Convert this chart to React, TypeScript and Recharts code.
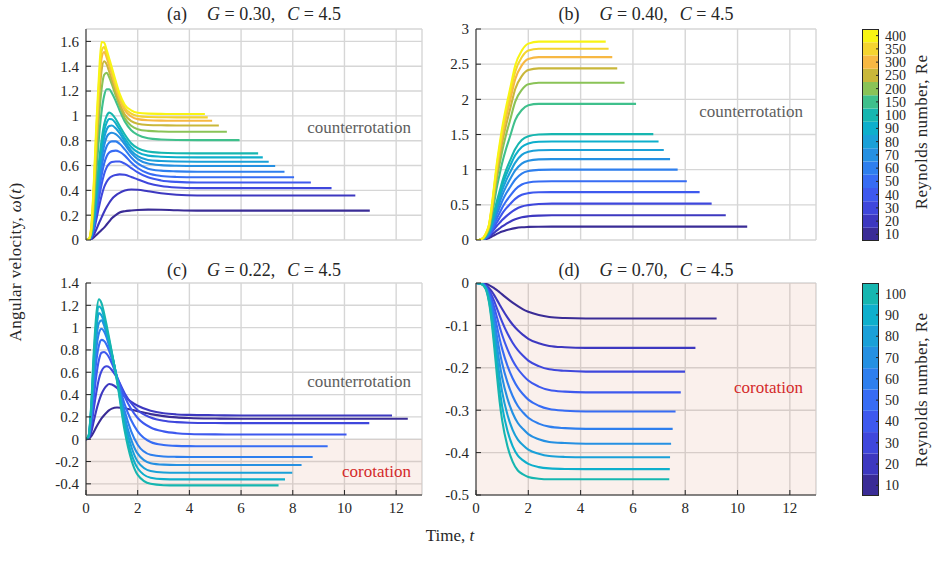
import React from "react";
import {
  LineChart,
  Line,
  XAxis,
  YAxis,
  CartesianGrid,
  ReferenceArea,
  BarChart,
  Bar,
} from "recharts";

const FONT = "'Liberation Serif', 'DejaVu Serif', serif";
const INK = "#262626";
const GRID = "#d6d6d6";

// Reynolds numbers shown on the colour bars
const RE_ALL = ["10", "20", "30", "40", "50", "60", "70", "80", "90", "100", "150", "200", "250", "300", "350", "400"];
const RE_LOW = ["10", "20", "30", "40", "50", "60", "70", "80", "90", "100"];
const COLORS = [
  "#3a2c96", "#3d38c0", "#3f47dc", "#3e59ee", "#376cf4", "#2e7fee", "#2590e2", "#1aa0d8",
  "#0eafcc", "#16b6b0", "#3fc08c", "#8ac357", "#c9b73a", "#f7b843", "#f4d430", "#f8f414",
];

const T_TICKS = [0, 2, 4, 6, 8, 10, 12];

// (a) G = 0.30 : time grid, end times and omega per Re (10 ... 400)
const GRID_A = [0, 0.1, 0.2, 0.3, 0.4, 0.5, 0.6, 0.7, 0.8, 0.9, 1.0, 1.15, 1.3, 1.5, 1.75, 2.0, 2.4, 2.9, 3.5, 4.3];
const END_A = [10.98, 10.42, 9.5, 8.7, 8.05, 7.68, 7.32, 7.07, 6.84, 6.66, 5.94, 5.45, 5.14, 4.88, 4.71, 4.6];
const W_A = [
  [0, 0.001, 0.006, 0.02, 0.04, 0.06, 0.08, 0.1, 0.125, 0.15, 0.175, 0.2, 0.222, 0.232, 0.238, 0.242, 0.245, 0.244, 0.24, 0.237],
  [0, 0.001, 0.01, 0.04, 0.085, 0.135, 0.18, 0.225, 0.265, 0.3, 0.33, 0.36, 0.38, 0.398, 0.407, 0.405, 0.393, 0.377, 0.365, 0.359],
  [0, 0.002, 0.016, 0.07, 0.165, 0.265, 0.355, 0.425, 0.47, 0.498, 0.513, 0.524, 0.529, 0.525, 0.508, 0.488, 0.458, 0.435, 0.423, 0.418],
  [0, 0.002, 0.02, 0.09, 0.21, 0.335, 0.445, 0.53, 0.585, 0.615, 0.628, 0.633, 0.632, 0.615, 0.58, 0.545, 0.505, 0.48, 0.468, 0.463],
  [0, 0.002, 0.024, 0.105, 0.245, 0.39, 0.515, 0.615, 0.675, 0.705, 0.716, 0.72, 0.71, 0.68, 0.625, 0.58, 0.537, 0.516, 0.508, 0.505],
  [0, 0.003, 0.027, 0.12, 0.28, 0.44, 0.58, 0.69, 0.755, 0.785, 0.795, 0.795, 0.775, 0.73, 0.665, 0.617, 0.575, 0.559, 0.553, 0.55],
  [0, 0.003, 0.03, 0.135, 0.31, 0.49, 0.645, 0.76, 0.83, 0.857, 0.864, 0.853, 0.825, 0.77, 0.7, 0.652, 0.616, 0.603, 0.598, 0.596],
  [0, 0.003, 0.034, 0.15, 0.34, 0.54, 0.7, 0.82, 0.89, 0.918, 0.922, 0.9, 0.86, 0.795, 0.72, 0.675, 0.645, 0.636, 0.632, 0.631],
  [0, 0.004, 0.037, 0.165, 0.37, 0.58, 0.75, 0.875, 0.945, 0.975, 0.972, 0.94, 0.89, 0.82, 0.75, 0.708, 0.68, 0.671, 0.667, 0.666],
  [0, 0.004, 0.04, 0.18, 0.4, 0.62, 0.8, 0.93, 1.0, 1.026, 1.015, 0.975, 0.92, 0.85, 0.78, 0.74, 0.713, 0.703, 0.699, 0.698],
  [0, 0.004, 0.05, 0.24, 0.54, 0.82, 1.03, 1.16, 1.215, 1.215, 1.185, 1.12, 1.045, 0.955, 0.885, 0.847, 0.82, 0.81, 0.806, 0.805],
  [0, 0.004, 0.06, 0.3, 0.66, 0.98, 1.21, 1.33, 1.348, 1.31, 1.255, 1.165, 1.08, 0.98, 0.92, 0.893, 0.879, 0.874, 0.872, 0.872],
  [0, 0.005, 0.07, 0.35, 0.76, 1.11, 1.36, 1.44, 1.415, 1.355, 1.29, 1.19, 1.1, 1.01, 0.958, 0.937, 0.927, 0.924, 0.923, 0.923],
  [0, 0.005, 0.08, 0.39, 0.83, 1.2, 1.46, 1.515, 1.47, 1.4, 1.335, 1.23, 1.135, 1.045, 0.995, 0.974, 0.965, 0.962, 0.961, 0.961],
  [0, 0.005, 0.09, 0.42, 0.88, 1.26, 1.52, 1.555, 1.5, 1.43, 1.36, 1.25, 1.155, 1.065, 1.018, 0.999, 0.991, 0.989, 0.988, 0.988],
  [0, 0.005, 0.1, 0.45, 0.93, 1.32, 1.595, 1.59, 1.53, 1.46, 1.39, 1.28, 1.18, 1.09, 1.045, 1.025, 1.018, 1.016, 1.015, 1.015],
];

// (b) G = 0.40
const GRID_B = [0, 0.1, 0.2, 0.3, 0.4, 0.5, 0.6, 0.7, 0.8, 0.9, 1.0, 1.15, 1.3, 1.5, 1.75, 2.0, 2.4, 2.9, 3.5];
const END_B = [10.37, 9.55, 9.01, 8.55, 8.06, 7.71, 7.42, 7.18, 6.98, 6.78, 6.12, 5.68, 5.4, 5.21, 5.07, 4.96];
const W_B = [
  [0, 0, 0.002, 0.007, 0.015, 0.029, 0.048, 0.068, 0.087, 0.105, 0.12, 0.139, 0.154, 0.169, 0.181, 0.186, 0.189, 0.19, 0.19],
  [0, 0.001, 0.004, 0.011, 0.025, 0.046, 0.074, 0.105, 0.137, 0.165, 0.193, 0.228, 0.26, 0.295, 0.323, 0.337, 0.347, 0.351, 0.351],
  [0, 0.001, 0.005, 0.016, 0.036, 0.067, 0.109, 0.155, 0.202, 0.243, 0.284, 0.336, 0.383, 0.434, 0.476, 0.496, 0.512, 0.517, 0.517],
  [0, 0, 0.003, 0.011, 0.031, 0.061, 0.116, 0.184, 0.252, 0.313, 0.374, 0.449, 0.51, 0.585, 0.643, 0.666, 0.678, 0.68, 0.68],
  [0, 0, 0.003, 0.013, 0.038, 0.075, 0.142, 0.225, 0.309, 0.384, 0.459, 0.551, 0.626, 0.718, 0.789, 0.818, 0.832, 0.835, 0.835],
  [0, 0, 0.004, 0.016, 0.045, 0.09, 0.17, 0.27, 0.37, 0.46, 0.55, 0.66, 0.75, 0.86, 0.945, 0.98, 0.997, 1.0, 1.0],
  [0, 0, 0.005, 0.018, 0.052, 0.104, 0.196, 0.311, 0.426, 0.529, 0.633, 0.759, 0.863, 0.989, 1.087, 1.127, 1.147, 1.15, 1.15],
  [0, 0, 0.005, 0.02, 0.058, 0.115, 0.218, 0.346, 0.474, 0.589, 0.704, 0.845, 0.96, 1.101, 1.21, 1.254, 1.276, 1.28, 1.28],
  [0, 0, 0.006, 0.022, 0.063, 0.126, 0.238, 0.378, 0.518, 0.644, 0.77, 0.924, 1.05, 1.204, 1.323, 1.372, 1.396, 1.4, 1.4],
  [0, 0, 0.006, 0.024, 0.068, 0.135, 0.256, 0.406, 0.557, 0.692, 0.828, 0.993, 1.129, 1.294, 1.422, 1.475, 1.5, 1.505, 1.505],
  [0, 0, 0.008, 0.029, 0.077, 0.155, 0.329, 0.542, 0.755, 0.929, 1.094, 1.297, 1.471, 1.704, 1.849, 1.917, 1.936, 1.936, 1.936],
  [0, 0, 0.009, 0.034, 0.089, 0.179, 0.38, 0.626, 0.872, 1.073, 1.263, 1.497, 1.699, 1.967, 2.134, 2.213, 2.235, 2.235, 2.235],
  [0, 0, 0.01, 0.037, 0.098, 0.195, 0.415, 0.683, 0.952, 1.171, 1.379, 1.635, 1.854, 2.147, 2.33, 2.416, 2.44, 2.44, 2.44],
  [0, 0, 0.01, 0.039, 0.104, 0.208, 0.442, 0.728, 1.014, 1.248, 1.469, 1.742, 1.976, 2.288, 2.483, 2.574, 2.6, 2.6, 2.6],
  [0, 0, 0.011, 0.041, 0.109, 0.218, 0.462, 0.762, 1.061, 1.306, 1.537, 1.822, 2.067, 2.394, 2.598, 2.693, 2.72, 2.72, 2.72],
  [0, 0, 0.011, 0.042, 0.113, 0.226, 0.479, 0.79, 1.1, 1.354, 1.593, 1.889, 2.143, 2.482, 2.693, 2.792, 2.82, 2.82, 2.82],
];

// (c) G = 0.22, Re 10 ... 100
const GRID_C = [0, 0.1, 0.2, 0.3, 0.4, 0.5, 0.6, 0.7, 0.8, 0.9, 1.0, 1.2, 1.5, 2.0, 2.5, 3.0, 3.5, 4.0, 5.0, 6.0];
const END_C = [12.45, 11.84, 10.96, 10.08, 9.35, 8.77, 8.34, 7.98, 7.7, 7.45];
const W_C = [
  [0, 0.004, 0.025, 0.065, 0.11, 0.15, 0.186, 0.215, 0.24, 0.26, 0.274, 0.284, 0.278, 0.25, 0.225, 0.207, 0.196, 0.19, 0.185, 0.183],
  [0, 0.008, 0.06, 0.16, 0.26, 0.34, 0.405, 0.45, 0.48, 0.495, 0.49, 0.46, 0.38, 0.3, 0.255, 0.232, 0.222, 0.218, 0.215, 0.213],
  [0, 0.01, 0.1, 0.27, 0.42, 0.54, 0.61, 0.645, 0.654, 0.645, 0.62, 0.55, 0.41, 0.26, 0.195, 0.165, 0.153, 0.148, 0.145, 0.144],
  [0, 0.015, 0.14, 0.37, 0.57, 0.71, 0.775, 0.782, 0.765, 0.73, 0.68, 0.56, 0.38, 0.19, 0.105, 0.07, 0.054, 0.047, 0.043, 0.042],
  [0, 0.02, 0.18, 0.46, 0.7, 0.84, 0.89, 0.88, 0.845, 0.79, 0.72, 0.55, 0.31, 0.07, -0.025, -0.052, -0.06, -0.062, -0.063, -0.063],
  [0, 0.02, 0.21, 0.54, 0.81, 0.95, 0.99, 0.965, 0.91, 0.83, 0.75, 0.55, 0.25, -0.05, -0.14, -0.155, -0.158, -0.159, -0.159, -0.159],
  [0, 0.025, 0.24, 0.61, 0.9, 1.04, 1.065, 1.02, 0.94, 0.85, 0.76, 0.55, 0.2, -0.13, -0.215, -0.228, -0.231, -0.231, -0.231, -0.231],
  [0, 0.03, 0.26, 0.67, 0.98, 1.13, 1.11, 1.05, 0.96, 0.86, 0.76, 0.54, 0.16, -0.2, -0.285, -0.298, -0.3, -0.3, -0.3, -0.3],
  [0, 0.03, 0.28, 0.72, 1.05, 1.19, 1.17, 1.09, 0.99, 0.88, 0.77, 0.53, 0.11, -0.26, -0.345, -0.358, -0.36, -0.36, -0.36, -0.36],
  [0, 0.03, 0.3, 0.78, 1.12, 1.255, 1.22, 1.13, 1.02, 0.9, 0.78, 0.52, 0.07, -0.32, -0.4, -0.412, -0.414, -0.414, -0.414, -0.414],
];

// (d) G = 0.70, Re 10 ... 100
const GRID_D = [0, 0.2, 0.3, 0.4, 0.5, 0.6, 0.7, 0.8, 0.9, 1.0, 1.2, 1.4, 1.6, 1.8, 2.0, 2.4, 2.8, 3.4, 4.2];
const END_D = [9.2, 8.39, 7.99, 7.83, 7.63, 7.52, 7.46, 7.42, 7.41, 7.39];
const W_D = [
  [0, -0.0003, -0.0008, -0.0025, -0.005, -0.0084, -0.0126, -0.0168, -0.0218, -0.0269, -0.037, -0.0462, -0.0546, -0.0622, -0.068, -0.0756, -0.0802, -0.0827, -0.0838],
  [0, -0.0006, -0.0021, -0.0061, -0.0122, -0.0199, -0.0291, -0.0398, -0.0505, -0.0612, -0.0811, -0.0979, -0.1117, -0.1224, -0.1316, -0.1423, -0.1484, -0.1515, -0.153],
  [0, -0.0008, -0.0029, -0.0084, -0.0173, -0.0291, -0.0435, -0.0598, -0.0761, -0.0915, -0.1187, -0.1409, -0.1584, -0.1718, -0.1831, -0.196, -0.2036, -0.2071, -0.209],
  [0, -0.001, -0.0036, -0.0103, -0.0219, -0.0382, -0.058, -0.0808, -0.1027, -0.1226, -0.1561, -0.1827, -0.2028, -0.2178, -0.2301, -0.2443, -0.2523, -0.2562, -0.258],
  [0, -0.0012, -0.0042, -0.0121, -0.0267, -0.0473, -0.0736, -0.1027, -0.1306, -0.1554, -0.1948, -0.2245, -0.2466, -0.2624, -0.2751, -0.2894, -0.2972, -0.3012, -0.303],
  [0, -0.0017, -0.0052, -0.0138, -0.031, -0.0568, -0.0894, -0.1256, -0.16, -0.1892, -0.2339, -0.2666, -0.29, -0.3055, -0.3179, -0.3316, -0.3388, -0.3423, -0.344],
  [0, -0.0019, -0.0057, -0.0152, -0.0352, -0.0659, -0.1054, -0.1482, -0.1891, -0.2229, -0.2721, -0.3066, -0.3301, -0.3445, -0.3563, -0.3684, -0.3748, -0.3775, -0.379],
  [0, -0.0021, -0.0062, -0.0164, -0.039, -0.0752, -0.1212, -0.1718, -0.2191, -0.2569, -0.3103, -0.3465, -0.3695, -0.3826, -0.3929, -0.4028, -0.4081, -0.4102, -0.411],
  [0, -0.0022, -0.0066, -0.0176, -0.043, -0.0838, -0.1374, -0.1949, -0.2485, -0.2911, -0.3481, -0.3846, -0.407, -0.4184, -0.4267, -0.4342, -0.4372, -0.4386, -0.439],
  [0, -0.0023, -0.0069, -0.0185, -0.0463, -0.0926, -0.1528, -0.2176, -0.2778, -0.3241, -0.3843, -0.4213, -0.4422, -0.4514, -0.4574, -0.4616, -0.463, -0.463, -0.463],
];

const Y_TICKS_A = [0, 0.2, 0.4, 0.6, 0.8, 1, 1.2, 1.4, 1.6];
const Y_TICKS_B = [0, 0.5, 1, 1.5, 2, 2.5, 3];
const Y_TICKS_C = [-0.4, -0.2, 0, 0.2, 0.4, 0.6, 0.8, 1, 1.2, 1.4];
const Y_TICKS_D = [-0.5, -0.4, -0.3, -0.2, -0.1, 0];

function series(grid: number[], vals: number[], tEnd: number) {
  const pts = grid.map((t, i) => ({ t, w: vals[i] }));
  pts.push({ t: tEnd, w: vals[vals.length - 1] });
  return pts;
}

type PanelProps = {
  left: number;
  top: number;
  plotW: number;
  plotH: number;
  grid: number[];
  curves: number[][];
  ends: number[];
  yDomain: [number, number];
  yTicks: number[];
  showT: boolean;
  shade?: [number, number];
};

const tickStyle = { fill: INK, fontSize: 15, fontFamily: FONT };
const blank = () => "";

function Panel(p: PanelProps) {
  const m = { top: 10, right: 8, bottom: p.showT ? 2 : 12, left: 0 };
  const yW = 50;
  const xH = p.showT ? 26 : 0;
  return (
    <div style={{ position: "absolute", left: p.left - yW, top: p.top - m.top }}>
      <LineChart width={yW + p.plotW + m.right} height={m.top + p.plotH + xH + m.bottom} margin={m}>
        {/* corotation shading: translucent so the grid stays visible through it */}
        {p.shade && (
          <ReferenceArea
            y1={p.shade[0]}
            y2={p.shade[1]}
            fill="#de9b80"
            fillOpacity={0.15}
            stroke="none"
          />
        )}
        <CartesianGrid stroke={GRID} strokeWidth={1.4} />
        <XAxis
          dataKey="t"
          type="number"
          domain={[0, 13]}
          ticks={T_TICKS}
          allowDataOverflow
          height={xH}
          tick={p.showT ? tickStyle : { fontSize: 1 }}
          tickFormatter={p.showT ? undefined : blank}
          tickSize={-5}
          tickMargin={12}
          axisLine={{ stroke: INK }}
          tickLine={{ stroke: INK }}
        />
        <XAxis
          xAxisId="top"
          orientation="top"
          type="number"
          domain={[0, 13]}
          ticks={T_TICKS}
          height={0}
          tickFormatter={blank}
          tickSize={-5}
          axisLine={{ stroke: INK }}
          tickLine={{ stroke: INK }}
        />
        <YAxis
          type="number"
          domain={p.yDomain}
          ticks={p.yTicks}
          allowDataOverflow
          width={yW}
          tick={tickStyle}
          tickSize={-5}
          tickMargin={12}
          interval={0}
          axisLine={{ stroke: INK }}
          tickLine={{ stroke: INK }}
        />
        <YAxis
          yAxisId="r"
          orientation="right"
          type="number"
          domain={p.yDomain}
          ticks={p.yTicks}
          width={0}
          tickFormatter={blank}
          tickSize={-5}
          axisLine={{ stroke: INK }}
          tickLine={{ stroke: INK }}
        />
        {p.curves.map((vals, i) => (
          <Line
            key={i}
            data={series(p.grid, vals, p.ends[i])}
            dataKey="w"
            type="monotone"
            stroke={COLORS[i]}
            strokeWidth={2.1}
            dot={false}
            isAnimationActive={false}
          />
        ))}
      </LineChart>
    </div>
  );
}

function ColorBar({ top, plotH, labels }: { top: number; plotH: number; labels: string[] }) {
  const colors = COLORS.slice(0, labels.length);
  const row: Record<string, number | string> = { k: "cb" };
  colors.forEach((_, i) => (row[`s${i}`] = 1));
  const centers = labels.map((_, i) => i + 0.5);
  const barW = 17;
  return (
    <div style={{ position: "absolute", left: 862, top }}>
      <BarChart
        width={barW + 44}
        height={plotH}
        data={[row]}
        margin={{ top: 0, right: 0, bottom: 0, left: 0 }}
        barCategoryGap={0}
        barGap={0}
      >
        <XAxis dataKey="k" type="category" hide />
        <YAxis
          orientation="right"
          type="number"
          domain={[0, labels.length]}
          ticks={centers}
          interval={0}
          tickFormatter={(v: number) => labels[Math.floor(v)]}
          width={44}
          axisLine={false}
          tickSize={-3}
          tickMargin={9}
          tickLine={{ stroke: INK }}
          tick={{ fill: INK, fontSize: 14, fontFamily: FONT, textAnchor: "start" }}
        />
        {colors.map((c, i) => (
          <Bar key={i} dataKey={`s${i}`} stackId="cb" fill={c} isAnimationActive={false} />
        ))}
      </BarChart>
      <div
        style={{
          position: "absolute",
          left: 0,
          top: 0,
          width: barW,
          height: plotH,
          border: `1px solid ${INK}`,
          boxSizing: "border-box",
        }}
      />
    </div>
  );
}

function Title({ cx, cy, tag, g }: { cx: number; cy: number; tag: string; g: string }) {
  return (
    <div
      style={{
        position: "absolute",
        left: cx - 150,
        width: 300,
        top: cy - 11,
        lineHeight: "22px",
        textAlign: "center",
        fontFamily: FONT,
        fontSize: 18,
        color: INK,
        whiteSpace: "nowrap",
      }}
    >
      {tag}
      <span style={{ marginLeft: 20 }}>
        <i>G</i> = {g},
      </span>
      <span style={{ marginLeft: 12 }}>
        <i>C</i> = 4.5
      </span>
    </div>
  );
}

function Note({ right, cy, text, color }: { right: number; cy: number; text: string; color: string }) {
  return (
    <div
      style={{
        position: "absolute",
        left: right - 200,
        width: 200,
        top: cy - 11,
        lineHeight: "22px",
        textAlign: "right",
        fontFamily: FONT,
        fontSize: 17,
        color,
        whiteSpace: "nowrap",
      }}
    >
      {text}
    </div>
  );
}

function Rotated({ cx, cy, children, size }: { cx: number; cy: number; children: React.ReactNode; size: number }) {
  return (
    <div
      style={{
        position: "absolute",
        left: cx - 150,
        top: cy - 12,
        width: 300,
        lineHeight: "24px",
        textAlign: "center",
        fontFamily: FONT,
        fontSize: size,
        color: INK,
        whiteSpace: "nowrap",
        transform: "rotate(-90deg)",
        letterSpacing: 0.4,
      }}
    >
      {children}
    </div>
  );
}

export default function App() {
  return (
    <div
      style={{
        position: "absolute",
        left: 0,
        top: 0,
        width: 939,
        height: 578,
        background: "#ffffff",
        overflow: "hidden",
      }}
    >
      <Panel left={86} top={29} plotW={336} plotH={211} grid={GRID_A} curves={W_A} ends={END_A}
        yDomain={[0, 1.7]} yTicks={Y_TICKS_A} showT={false} />
      <Panel left={476} top={29} plotW={340} plotH={211} grid={GRID_B} curves={W_B} ends={END_B}
        yDomain={[0, 3]} yTicks={Y_TICKS_B} showT={false} />
      <Panel left={86} top={283} plotW={336} plotH={212} grid={GRID_C} curves={W_C} ends={END_C}
        yDomain={[-0.5, 1.4]} yTicks={Y_TICKS_C} showT shade={[-0.5, 0]} />
      <Panel left={476} top={283} plotW={340} plotH={212} grid={GRID_D} curves={W_D} ends={END_D}
        yDomain={[-0.5, 0]} yTicks={Y_TICKS_D} showT shade={[-0.5, 0]} />

      <Title cx={254} cy={14} tag="(a)" g="0.30" />
      <Title cx={646} cy={14} tag="(b)" g="0.40" />
      <Title cx={254} cy={270} tag="(c)" g="0.22" />
      <Title cx={646} cy={270} tag="(d)" g="0.70" />

      <Note right={411} cy={128} text="counterrotation" color="#5e5e5e" />
      <Note right={803} cy={112} text="counterrotation" color="#5e5e5e" />
      <Note right={411} cy={382} text="counterrotation" color="#5e5e5e" />
      <Note right={411} cy={472} text="corotation" color="#d42a2a" />
      <Note right={803} cy={388} text="corotation" color="#d42a2a" />

      <ColorBar top={29} plotH={212} labels={RE_ALL} />
      <ColorBar top={283} plotH={213} labels={RE_LOW} />

      <Rotated cx={922} cy={132} size={17}>Reynolds number, Re</Rotated>
      <Rotated cx={922} cy={390} size={17}>Reynolds number, Re</Rotated>
      <Rotated cx={16} cy={262} size={17}>
        Angular velocity, <i>ω</i>(<i>t</i>)
      </Rotated>

      <div
        style={{
          position: "absolute",
          left: 300,
          width: 300,
          top: 525,
          lineHeight: "22px",
          textAlign: "center",
          fontFamily: FONT,
          fontSize: 17,
          color: INK,
        }}
      >
        Time, <i>t</i>
      </div>
    </div>
  );
}
